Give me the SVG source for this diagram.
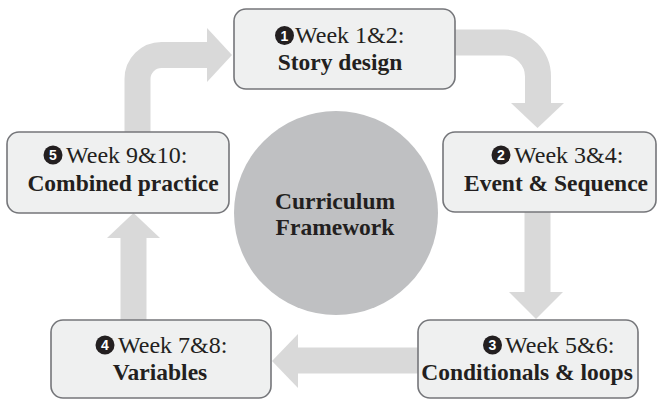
<svg xmlns="http://www.w3.org/2000/svg" width="657" height="401" viewBox="0 0 657 401">
  <defs>
    <style>
      .box { fill: #eff0f0; stroke: #75767a; stroke-width: 1.6; }
      .shaft { fill: none; stroke: #d9d9d9; stroke-width: 26; stroke-linecap: butt; }
      .head { fill: #d9d9d9; }
      .hub { fill: #bfc0c2; }
      .reg { font-size: 24px; fill: #231f20; }
      .bold { font-size: 23.5px; font-weight: bold; fill: #231f20; text-anchor: middle; }
      .badge { fill: #231f20; }
      .num { font-size: 14px; font-weight: bold; fill: #ffffff; text-anchor: middle; }
    </style>
  </defs>

  <rect width="657" height="401" fill="#ffffff"/>

  <!-- connectors: thick grey block arrows running clockwise -->
  <g id="connectors">
    <!-- week 9&10 back up to week 1&2 -->
    <path class="shaft" d="M137.5,132 V79 A24,24 0 0 1 161.5,55 H208"/>
    <polygon class="head" points="207,28 232,55 207,82"/>
    <!-- week 1&2 down to week 3&4 -->
    <path class="shaft" d="M455,42.5 H504 A34,34 0 0 1 538,76.5 V104"/>
    <polygon class="head" points="511,103 564,103 537.5,128"/>
    <!-- week 3&4 down to week 5&6 -->
    <path class="shaft" d="M537.5,212 V293"/>
    <polygon class="head" points="509,292 563,292 536,319"/>
    <!-- week 5&6 left to week 7&8 -->
    <path class="shaft" d="M418,360.5 H297"/>
    <polygon class="head" points="298,334 298,388 272,361"/>
    <!-- week 7&8 up to week 9&10 -->
    <path class="shaft" d="M133.5,320 V237"/>
    <polygon class="head" points="107,238 160,238 133.5,213"/>
  </g>

  <g font-family="Liberation Serif, serif">
    <g id="hub">
      <circle class="hub" cx="336" cy="213" r="102"/>
      <text class="bold" x="335" y="209">Curriculum</text>
      <text class="bold" x="335" y="235">Framework</text>
    </g>

    <g id="week1">
      <rect class="box" x="234" y="9" width="221" height="80" rx="12"/>
      <circle class="badge" cx="284.5" cy="35.5" r="9.5"/>
      <text class="num" x="284.5" y="40.5" font-family="Liberation Sans, sans-serif">1</text>
      <text class="reg" x="295" y="43">Week 1&amp;2:</text>
      <text class="bold" x="340" y="69.5">Story design</text>
    </g>

    <g id="week3">
      <rect class="box" x="443" y="132" width="213" height="80" rx="12"/>
      <circle class="badge" cx="501" cy="155" r="9.5"/>
      <text class="num" x="501" y="160" font-family="Liberation Sans, sans-serif">2</text>
      <text class="reg" x="514" y="163">Week 3&amp;4:</text>
      <text class="bold" x="556" y="191">Event &amp; Sequence</text>
    </g>

    <g id="week5">
      <rect class="box" x="418" y="320" width="220" height="78" rx="12"/>
      <circle class="badge" cx="492.5" cy="345" r="9.5"/>
      <text class="num" x="492.5" y="350" font-family="Liberation Sans, sans-serif">3</text>
      <text class="reg" x="505" y="353">Week 5&amp;6:</text>
      <text class="bold" x="527" y="380">Conditionals &amp; loops</text>
    </g>

    <g id="week7">
      <rect class="box" x="51" y="320" width="220" height="78" rx="12"/>
      <circle class="badge" cx="105" cy="345" r="9.5"/>
      <text class="num" x="105" y="350" font-family="Liberation Sans, sans-serif">4</text>
      <text class="reg" x="118" y="353">Week 7&amp;8:</text>
      <text class="bold" x="160" y="380">Variables</text>
    </g>

    <g id="week9">
      <rect class="box" x="7" y="132" width="222" height="81" rx="12"/>
      <circle class="badge" cx="53" cy="155" r="9.5"/>
      <text class="num" x="53" y="160" font-family="Liberation Sans, sans-serif">5</text>
      <text class="reg" x="66" y="163">Week 9&amp;10:</text>
      <text class="bold" x="123" y="191">Combined practice</text>
    </g>
  </g>
</svg>
